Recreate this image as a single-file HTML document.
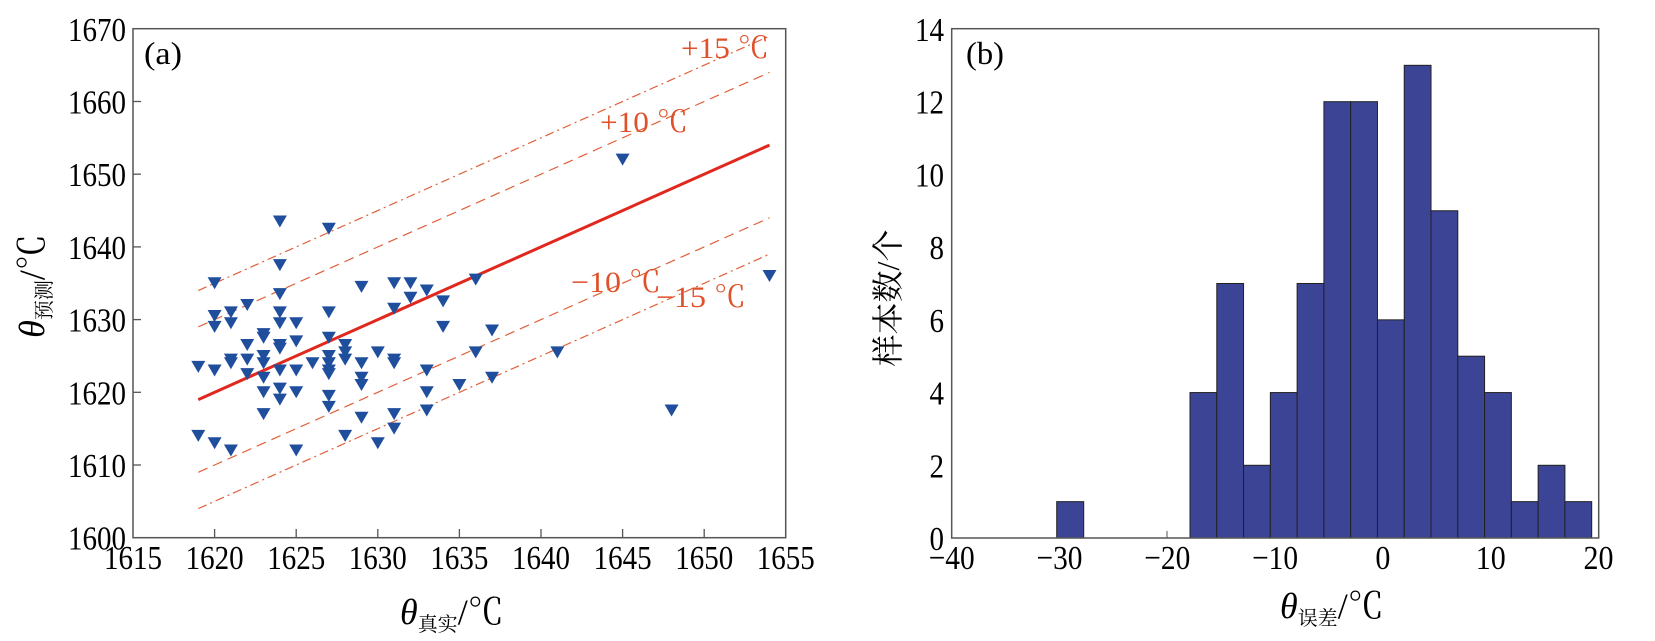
<!DOCTYPE html>
<html><head><meta charset="utf-8">
<style>
html,body{margin:0;padding:0;background:#fff;}
svg{display:block;}
text{font-family:"Liberation Serif","Noto Serif CJK SC",serif;}
</style></head>
<body>
<svg id="s" width="1655" height="641" viewBox="0 0 1655 641" xmlns="http://www.w3.org/2000/svg">
<rect x="0" y="0" width="1655" height="641" fill="#fff"/>
<g id="left"></g>
<g id="right"></g>
</svg>
<script>
var NS="http://www.w3.org/2000/svg";
function el(p,tag,attrs,txt){var e=document.createElementNS(NS,tag);for(var k in attrs)e.setAttribute(k,attrs[k]);if(txt!==undefined)e.textContent=txt;p.appendChild(e);return e;}
function lab(p,x,y,s,anchor){var n=s.length;var w=n*14.5;var a={x:x,y:y,'font-size':34,'text-anchor':anchor,textLength:w,lengthAdjust:'spacingAndGlyphs'};return el(p,'text',a,s);}
var L=document.getElementById('left'),R=document.getElementById('right');
function X(v){return 133+(v-1615)*16.32;}
function Y(v){return 537.7-(v-1600)*7.27;}
el(L,'rect',{x:133,y:28.7,width:652.7,height:509,fill:'none',stroke:'#555','stroke-width':1.5});
for(var v=1620;v<1655;v+=5){el(L,'line',{x1:X(v),x2:X(v),y1:537.7,y2:529,stroke:'#555','stroke-width':1.3});}
for(var v=1610;v<1670;v+=10){el(L,'line',{x1:133,x2:141,y1:Y(v),y2:Y(v),stroke:'#555','stroke-width':1.3});}
for(var v=1615;v<=1655;v+=5){lab(L,X(v),569,String(v),'middle');}
for(var v=1600;v<=1670;v+=10){lab(L,126,Y(v)+12,String(v),'end');}
var lc='#e0603a';
el(L,'line',{x1:X(1619),y1:Y(1619+15),x2:X(1654),y2:Y(1654+15),stroke:lc,'stroke-width':1.2,'stroke-dasharray':'9,4,2,4'});
el(L,'line',{x1:X(1619),y1:Y(1619+10),x2:X(1654),y2:Y(1654+10),stroke:lc,'stroke-width':1.2,'stroke-dasharray':'10,6'});
el(L,'line',{x1:X(1619),y1:Y(1619-10),x2:X(1654),y2:Y(1654-10),stroke:lc,'stroke-width':1.2,'stroke-dasharray':'10,6'});
el(L,'line',{x1:X(1619),y1:Y(1619-15),x2:X(1654),y2:Y(1654-15),stroke:lc,'stroke-width':1.2,'stroke-dasharray':'9,4,2,4'});
el(L,'line',{x1:X(1619),y1:Y(1619),x2:X(1654),y2:Y(1654),stroke:'#e0281e','stroke-width':3});
var pts=[[1619,1623.5],[1619,1614],[1620,1635],[1620,1630.5],[1620,1629],[1620,1623],[1620,1613],[1621,1631],[1621,1629.5],[1621,1624.5],[1621,1624],[1621,1612],[1622,1632],[1622,1626.5],[1622,1624.5],[1622,1622.5],[1623,1628],[1623,1627.5],[1623,1625],[1623,1624],[1623,1622],[1623,1620],[1623,1617],[1624,1643.5],[1624,1637.5],[1624,1633.5],[1624,1631],[1624,1629.5],[1624,1626.5],[1624,1626],[1624,1623],[1624,1620.5],[1624,1619],[1625,1629.5],[1625,1627],[1625,1623],[1625,1620],[1625,1612],[1626,1624],[1627,1642.5],[1627,1631],[1627,1627.5],[1627,1625],[1627,1624],[1627,1623],[1627,1622.5],[1627,1619.5],[1627,1618],[1628,1626.5],[1628,1625.5],[1628,1624.5],[1628,1614],[1629,1634.5],[1629,1624],[1629,1622],[1629,1621],[1629,1616.5],[1630,1625.5],[1630,1613],[1631,1635],[1631,1631.5],[1631,1624.5],[1631,1624],[1631,1617],[1631,1615],[1632,1635],[1632,1633],[1633,1634],[1633,1623],[1633,1620],[1633,1617.5],[1634,1632.5],[1634,1629],[1635,1621],[1636,1635.5],[1636,1625.5],[1637,1628.5],[1637,1622],[1641,1625.5],[1645,1652],[1648,1617.5],[1654,1636]];
pts.forEach(function(p){var x=X(p[0]),y=Y(p[1]);el(L,'polygon',{points:(x-7)+','+(y-6)+' '+(x+7)+','+(y-6)+' '+x+','+(y+6),fill:'#1f4e9c'});});
el(L,'text',{x:144,y:64,'font-size':32,textLength:38,lengthAdjust:'spacingAndGlyphs'},'(a)');
var rc='#e0502a';
el(L,'text',{x:681,y:58,'font-size':30,fill:rc,textLength:88,lengthAdjust:'spacingAndGlyphs'},'+15 ℃');
el(L,'text',{x:600,y:132,'font-size':30,fill:rc,textLength:88,lengthAdjust:'spacingAndGlyphs'},'+10 ℃');
el(L,'text',{x:571,y:292,'font-size':30,fill:rc,textLength:90,lengthAdjust:'spacingAndGlyphs'},'−10 ℃');
el(L,'text',{x:656,y:307,'font-size':30,fill:rc,textLength:90,lengthAdjust:'spacingAndGlyphs'},'−15 ℃');
var t=el(L,'text',{x:400,y:624,'font-size':36},'');
el(t,'tspan',{'font-style':'italic'},'θ');el(t,'tspan',{'font-size':20,dy:7},'真实');el(t,'tspan',{dy:-7},'/℃');
var t2=el(L,'text',{transform:'translate(44,286) rotate(-90)','font-size':36,'text-anchor':'middle'},'');
el(t2,'tspan',{'font-style':'italic'},'θ');el(t2,'tspan',{'font-size':20,dy:7},'预测');el(t2,'tspan',{dy:-7},'/℃');
function XR(v){return 951.7+(v+40)*10.78;}
function YR(c){return 538-c*36.36;}
var bars=[4,7,2,4,7,12,12,6,13,9,5,4,1,2,1];
el(R,'rect',{x:1056.7,y:YR(1),width:27,height:36.36,fill:'#3c4496',stroke:'#222','stroke-width':1});
var x0=1190,w=26.78;
bars.forEach(function(c,i){el(R,'rect',{x:x0+i*w,y:YR(c),width:w,height:c*36.36,fill:'#3c4496',stroke:'#222','stroke-width':1});});
el(R,'rect',{x:951.7,y:28.7,width:647,height:509.3,fill:'none',stroke:'#555','stroke-width':1.5});
el(R,'line',{x1:1167,x2:1167,y1:538,y2:531,stroke:'#555','stroke-width':1});
for(var v=-40;v<=20;v+=10){var s=(v<0?'−':'')+Math.abs(v);el(R,'text',{x:XR(v),y:569,'font-size':34,'text-anchor':'middle',textLength:(v<0?46:(v==0?15:30)),lengthAdjust:'spacingAndGlyphs'},s);}
for(var c=0;c<=14;c+=2){var s=String(c);el(R,'text',{x:944,y:YR(c)+12,'font-size':34,'text-anchor':'end',textLength:s.length*14.5,lengthAdjust:'spacingAndGlyphs'},s);}
el(R,'text',{x:966,y:64,'font-size':32,textLength:38,lengthAdjust:'spacingAndGlyphs'},'(b)');
var t3=el(R,'text',{x:1280,y:618,'font-size':36},'');
el(t3,'tspan',{'font-style':'italic'},'θ');el(t3,'tspan',{'font-size':20,dy:7},'误差');el(t3,'tspan',{dy:-7},'/℃');
el(R,'text',{transform:'translate(899,298) rotate(-90)','font-size':32,'text-anchor':'middle','font-family':'"Noto Sans CJK SC",sans-serif'},'样本数/个');
</script>
</body></html>
